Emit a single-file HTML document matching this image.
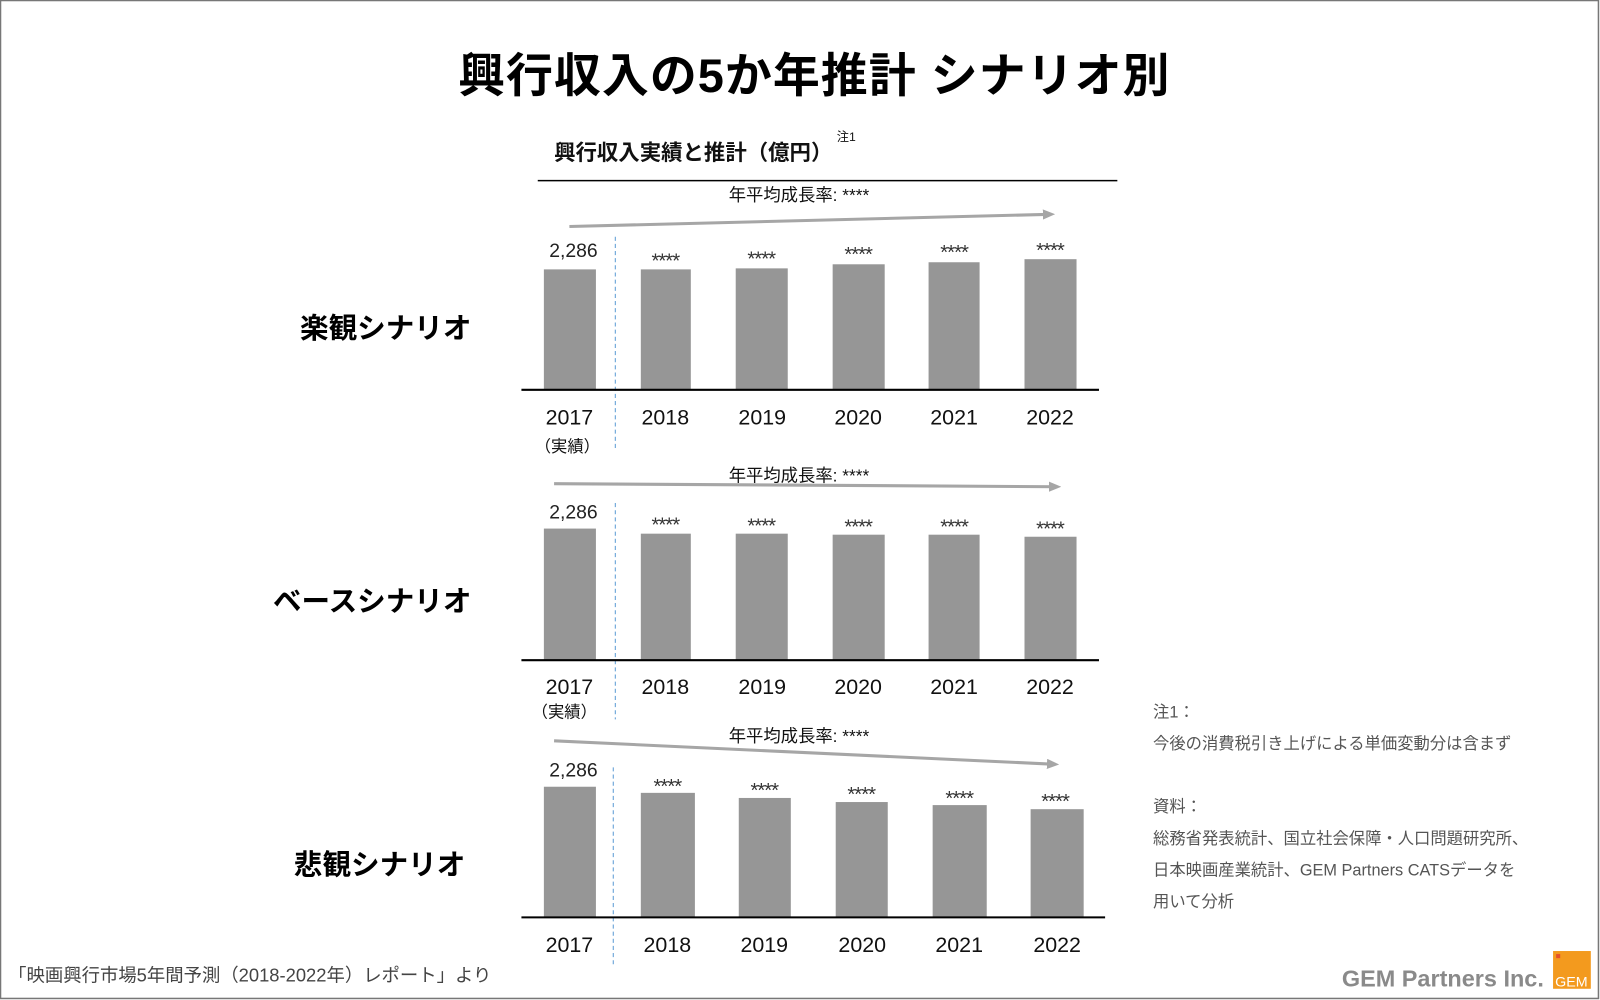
<!DOCTYPE html>
<html><head><meta charset="utf-8"><style>
html,body{margin:0;padding:0;background:#fff;}
svg{display:block;}
text{font-family:"Liberation Sans","Noto Sans CJK JP",sans-serif;}
</style></head><body>
<svg width="1600" height="1000" viewBox="0 0 1568 980" xmlns="http://www.w3.org/2000/svg">
<defs><marker id="ah" markerWidth="12" markerHeight="10" refX="8" refY="5" orient="auto" markerUnits="userSpaceOnUse"><path d="M0,0 L12,5 L0,10 z" fill="#a6a6a6"/></marker></defs>
<rect x="0.5" y="0.5" width="1566" height="978" fill="#fff" stroke="#777" stroke-width="1.5"/>
<text x="798" y="90" font-size="46" font-weight="bold" text-anchor="middle" fill="#000" letter-spacing="1">興行収入の5か年推計 シナリオ別</text>
<text x="543" y="157" font-size="21" font-weight="bold" fill="#111">興行収入実績と推計（億円）</text>
<text x="820" y="138" font-size="12" fill="#111">注1</text>
<line x1="527" y1="177" x2="1095" y2="177" stroke="#000" stroke-width="1.5"/>

<g fill="#111" font-size="17" text-anchor="middle">
<text x="783" y="197">年平均成長率: ****</text>
<text x="783" y="472">年平均成長率: ****</text>
<text x="783" y="727">年平均成長率: ****</text>
</g>
<g stroke="#a6a6a6" stroke-width="3" marker-end="url(#ah)">
<line x1="558" y1="222" x2="1030" y2="210"/>
<line x1="543" y1="474" x2="1036" y2="477"/>
<line x1="543" y1="726" x2="1034" y2="749"/>
</g>
<g stroke="#5b9bd5" stroke-width="1" stroke-dasharray="4,3">
<line x1="603" y1="232" x2="603" y2="442"/>
<line x1="603" y1="493" x2="603" y2="705"/>
<line x1="601" y1="752" x2="601" y2="946"/>
</g>

<g fill="#969696">
<rect x="533" y="264" width="51" height="118"/><rect x="628" y="264" width="49" height="118"/><rect x="721" y="263" width="51" height="119"/><rect x="816" y="259" width="51" height="123"/><rect x="910" y="257" width="50" height="125"/><rect x="1004" y="254" width="51" height="128"/>
<rect x="533" y="518" width="51" height="129"/><rect x="628" y="523" width="49" height="124"/><rect x="721" y="523" width="51" height="124"/><rect x="816" y="524" width="51" height="123"/><rect x="910" y="524" width="50" height="123"/><rect x="1004" y="526" width="51" height="121"/>
<rect x="533" y="771" width="51" height="128"/><rect x="628" y="777" width="53" height="122"/><rect x="724" y="782" width="51" height="117"/><rect x="819" y="786" width="51" height="113"/><rect x="914" y="789" width="53" height="110"/><rect x="1010" y="793" width="52" height="106"/>
</g>
<g stroke="#000" stroke-width="2">
<line x1="511" y1="382" x2="1077" y2="382"/>
<line x1="511" y1="647" x2="1077" y2="647"/>
<line x1="511" y1="899" x2="1083" y2="899"/>
</g>

<g fill="#222" font-size="19" text-anchor="middle">
<text x="562" y="252">2,286</text>
<text x="562" y="508">2,286</text>
<text x="562" y="761">2,286</text>
</g>
<g fill="#333" font-size="20" text-anchor="middle" letter-spacing="-1">
<text x="652" y="262">****</text><text x="746" y="260">****</text><text x="841" y="256">****</text><text x="935" y="254">****</text><text x="1029" y="252">****</text>
<text x="652" y="521">****</text><text x="746" y="522">****</text><text x="841" y="523">****</text><text x="935" y="523">****</text><text x="1029" y="525">****</text>
<text x="654" y="777">****</text><text x="749" y="781">****</text><text x="844" y="785">****</text><text x="940" y="789">****</text><text x="1034" y="792">****</text>
</g>
<g fill="#111" font-size="21" text-anchor="middle">
<text x="558" y="416">2017</text><text x="652" y="416">2018</text><text x="747" y="416">2019</text><text x="841" y="416">2020</text><text x="935" y="416">2021</text><text x="1029" y="416">2022</text>
<text x="558" y="680">2017</text><text x="652" y="680">2018</text><text x="747" y="680">2019</text><text x="841" y="680">2020</text><text x="935" y="680">2021</text><text x="1029" y="680">2022</text>
<text x="558" y="933">2017</text><text x="654" y="933">2018</text><text x="749" y="933">2019</text><text x="845" y="933">2020</text><text x="940" y="933">2021</text><text x="1036" y="933">2022</text>
</g>
<g fill="#111" font-size="16" text-anchor="middle">
<text x="556" y="443">（実績）</text>
<text x="553" y="703">（実績）</text>
</g>
<g fill="#000" font-size="28" font-weight="bold" text-anchor="end">
<text x="462" y="331">楽観シナリオ</text>
<text x="462" y="599">ベースシナリオ</text>
<text x="456" y="857">悲観シナリオ</text>
</g>
<g fill="#555" font-size="16">
<text x="1130" y="703">注1：</text>
<text x="1130" y="734">今後の消費税引き上げによる単価変動分は含まず</text>
<text x="1130" y="796">資料：</text>
<text x="1130" y="827">総務省発表統計、国立社会保障・人口問題研究所、</text>
<text x="1130" y="858">日本映画産業統計、GEM Partners CATSデータを</text>
<text x="1130" y="889">用いて分析</text>
</g>
<text x="8" y="962" font-size="18" fill="#444">「映画興行市場5年間予測（2018-2022年）レポート」より</text>
<text x="1315" y="967" font-size="23" font-weight="bold" fill="#8a8a8a">GEM Partners Inc.</text>
<rect x="1522" y="932" width="37" height="37" fill="#f39a1e"/>
<rect x="1525" y="935" width="4" height="4" fill="#e4502a"/>
<text x="1540" y="967" font-size="14" fill="#fff" text-anchor="middle">GEM</text>
</svg>
</body></html>
